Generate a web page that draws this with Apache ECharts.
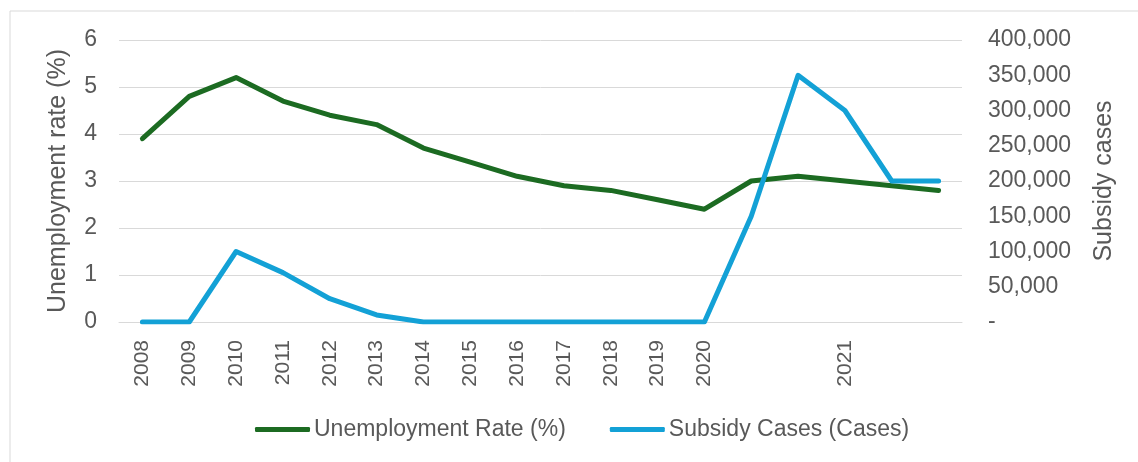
<!DOCTYPE html>
<html><head><meta charset="utf-8">
<script src="https://cdn.jsdelivr.net/npm/echarts@6/dist/echarts.min.js"></script>
<style>html,body{margin:0;padding:0;background:#fff}#c{width:1138px;height:462px}</style>
</head><body><div id="c"></div>
<script>
const categories = ['2008','2009','2010','2011','2012','2013','2014','2015','2016','2017','2018','2019','2020','','','2021','',''];
const unemployment = [3.9,4.8,5.2,4.7,4.4,4.2,3.7,3.4,3.1,2.9,2.8,2.6,2.4,3.0,3.1,3.0,2.9,2.8];
const subsidy = [0,0,100000,70000,33000,10000,0,0,0,0,0,0,0,150000,350000,300000,200000,200000];
const leftTicks = {min:0,max:6,interval:1};
const rightTicks = {min:0,max:400000,interval:50000};

const font = '"Liberation Sans", Arial, sans-serif';
const txt = '#595959';
const chart = echarts.init(document.getElementById('c'));
chart.setOption({
  animation:false,
  graphic:[{type:'rect',shape:{x:10,y:11,width:1140,height:460},style:{fill:'none',stroke:'#d9d9d9',lineWidth:1}}],
  grid:{left:119,right:176,top:40,bottom:140},
  legend:{top:413,left:250,itemWidth:55,itemHeight:5,itemGap:44,
    textStyle:{fontFamily:font,fontSize:23,color:txt,padding:[0,0,0,-1]},
    data:[{name:'Unemployment Rate (%)',icon:'roundRect'},{name:'Subsidy Cases (Cases)',icon:'roundRect'}]},
  xAxis:{type:'category',data:categories,boundaryGap:true,
    axisLine:{show:true,lineStyle:{color:'#d9d9d9',width:1}},axisTick:{show:false},
    axisLabel:{interval:0,rotate:90,fontFamily:font,fontSize:21,color:txt,margin:18}},
  yAxis:[
    {type:'value',...leftTicks,position:'left',name:'Unemployment rate (%)',nameLocation:'middle',nameGap:48,
     nameTextStyle:{fontFamily:font,fontSize:25,color:txt},
     axisLabel:{fontFamily:font,fontSize:23,color:txt,margin:22},
     splitLine:{lineStyle:{color:'#d9d9d9',width:1}},axisLine:{show:false},axisTick:{show:false}},
    {type:'value',...rightTicks,position:'right',name:'Subsidy cases',nameLocation:'middle',nameGap:130,
     nameTextStyle:{fontFamily:font,fontSize:25,color:txt},
     axisLabel:{fontFamily:font,fontSize:23,color:txt,margin:26,
       formatter:v=>v===0?'-':v.toLocaleString('en-US')},
     splitLine:{show:false},axisLine:{show:false},axisTick:{show:false}}
  ],
  series:[
    {name:'Unemployment Rate (%)',type:'line',yAxisIndex:0,data:unemployment,symbol:'none',
     lineStyle:{color:'#1c6b22',width:5,cap:'round',join:'round'},itemStyle:{color:'#1c6b22'}},
    {name:'Subsidy Cases (Cases)',type:'line',yAxisIndex:1,data:subsidy,symbol:'none',
     lineStyle:{color:'#13a1d6',width:5,cap:'round',join:'round'},itemStyle:{color:'#13a1d6'}}
  ]
});
</script></body></html>
